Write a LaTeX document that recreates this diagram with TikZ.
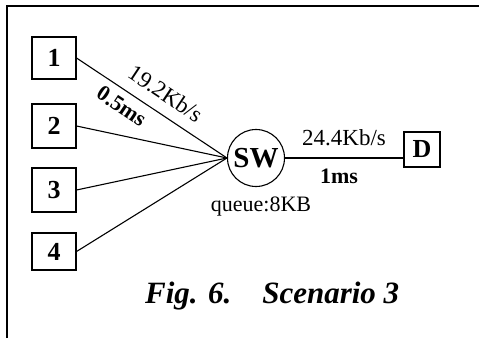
\documentclass[tikz,border=0pt]{standalone}
\usepackage{fontspec}
\setmainfont{Liberation Serif}
\begin{document}
\begin{tikzpicture}[x=1pt,y=1pt,
 box/.style={draw, line width=1.1pt, minimum width=44pt, inner sep=0pt, font=\fontsize{26}{26}\selectfont\bfseries},
 link/.style={line width=1.1pt},
 lbl/.style={inner sep=0pt, font=\fontsize{23}{23}\selectfont},
 blbl/.style={inner sep=0pt, font=\fontsize{22}{22}\selectfont\bfseries}]
\useasboundingbox (0,0) rectangle (479,338);
\draw[line width=1.2pt] (7,0) -- (7,332) -- (479,332);
\node[box, minimum height=42pt] (n1) at (54,280) {1};
\node[box, minimum height=44pt] (n2) at (54,212) {2};
\node[box, minimum height=44pt] (n3) at (54,148) {3};
\node[box, minimum height=37pt] (n4) at (54,86.5) {4};
\node[circle, draw, line width=1.1pt, minimum size=57pt, inner sep=0pt, font=\fontsize{29}{29}\selectfont\bfseries] (sw) at (256,180) {SW};
\node[draw, line width=1.1pt, minimum width=36pt, minimum height=35pt, inner sep=0pt, font=\fontsize{26}{26}\selectfont\bfseries] (d) at (422,188.5) {D};
\draw[link] (n1.east) -- node[lbl, sloped, pos=.52, above=11pt] (r1) {19.2Kb/s} node[blbl, sloped, pos=.355, below=7pt] (t1) {0.5ms} (sw.west);
\draw[link] (n2.east) -- (sw.west);
\draw[link] (n3.east) -- (sw.west);
\draw[link] (n4.east) -- (sw.west);
\draw[link] (sw.east) -- (sw.east -| d.west);
\node[lbl] (r2) at (344,200) {24.4Kb/s};
\node[blbl] (t2) at (339,162) {1ms};
\node[inner sep=0pt, font=\fontsize{22}{22}\selectfont] (q) at (261,131) {queue:8KB};
\node[inner sep=0pt, anchor=base west, font=\fontsize{31}{31}\selectfont\bfseries\itshape] (cap) at (145,35) {Fig. 6.\quad Scenario 3};
\end{tikzpicture}
\end{document}
